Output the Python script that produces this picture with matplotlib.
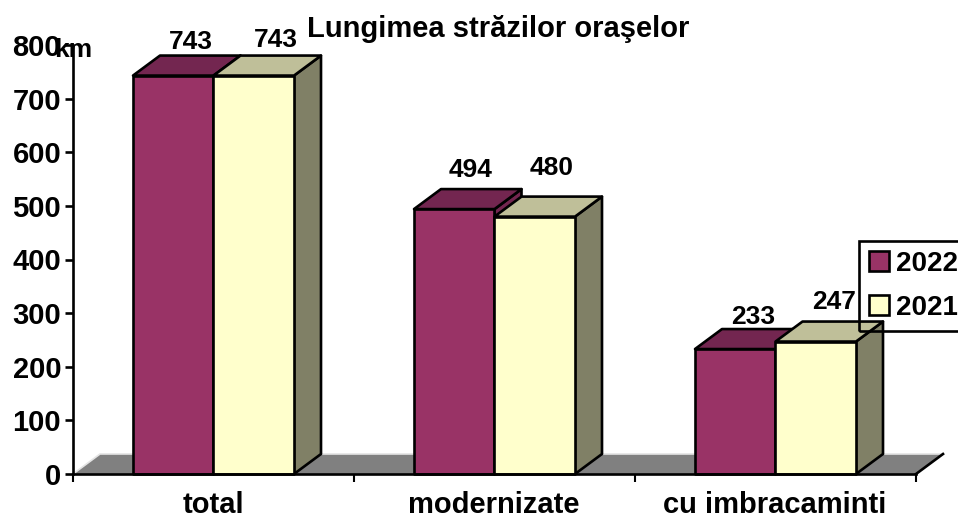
import matplotlib
matplotlib.use('Agg')
import matplotlib.pyplot as plt
from matplotlib.patches import Polygon, Patch

plt.rcParams['font.family'] = ['Liberation Sans', 'DejaVu Sans']
plt.rcParams['font.weight'] = 'bold'

categories = ['total', 'modernizate', 'cu imbracaminti']
v2022 = [743, 494, 233]
v2021 = [743, 480, 247]
ticks = [0, 100, 200, 300, 400, 500, 600, 700, 800]

W, H = 958, 519
fig = plt.figure(figsize=(W / 100, H / 100), dpi=100)
# axa: x 73..916 px, y 474..45 px
ax = fig.add_axes([73 / W, 1 - 474 / H, (916 - 73) / W, (474 - 45) / H])
ax.set_xlim(0, 3)
ax.set_ylim(0, 800)
ax.patch.set_visible(False)

dx = 27 / 281   # adancime 3D in unitati de date
dy = 20 / 429 * 800
bw = 80.5 / 281

# podeaua gri
ax.add_patch(Polygon([(0, 0), (dx, dy), (3 + dx, dy), (3, 0)], fc='#808080', ec='none', clip_on=False, zorder=1))
ax.plot([0, dx, 3 + dx], [0, dy, dy], color='#e4e4e4', lw=1.2, clip_on=False, zorder=1)
ax.plot([3, 3 + dx], [0, dy], color='black', lw=1.9, clip_on=False, zorder=1)


def bar3d(x, h, front, top, side):
    kw = dict(ec='black', lw=1.9, joinstyle='round', clip_on=False, zorder=3)
    ax.add_patch(Polygon([(x + bw, 0), (x + bw + dx, dy), (x + bw + dx, h + dy), (x + bw, h)], fc=side, **kw))
    ax.add_patch(Polygon([(x, h), (x + dx, h + dy), (x + bw + dx, h + dy), (x + bw, h)], fc=top, **kw))
    ax.add_patch(Polygon([(x, 0), (x, h), (x + bw, h), (x + bw, 0)], fc=front, **kw))


# offset-urile etichetelor in pixeli fata de coltul din fata
off_2022 = [(18, 34), (16, 39), (18, 32)]
off_2021 = [(22, 36), (17, 49), (18, 40)]

for i in range(3):
    bar3d(i + 0.5 - bw, v2022[i], '#993366', '#732650', '#732650')
    bar3d(i + 0.5, v2021[i], '#FFFFCC', '#BFBF99', '#808066')
    for x, v, o in [(i + 0.5 - bw / 2, v2022[i], off_2022[i]), (i + 0.5 + bw / 2, v2021[i], off_2021[i])]:
        ax.annotate(str(v), (x, v), xytext=(o[0] * 0.72, o[1] * 0.72), textcoords='offset points',
                    ha='center', va='center', fontsize=19, fontweight='bold', zorder=5)

for s in ['top', 'right']:
    ax.spines[s].set_visible(False)
for s in ['left', 'bottom']:
    ax.spines[s].set_linewidth(1.9)
    ax.spines[s].set_zorder(4)

ax.set_yticks(ticks)
ax.set_yticklabels(ticks, fontsize=21, fontweight='bold')
ax.set_xticks([0, 1, 2, 3])
ax.set_xticklabels([])
ax.tick_params(axis='y', length=5.5, width=1.9, pad=3)
ax.tick_params(axis='x', length=6, width=1.5)
for i, c in enumerate(categories):
    fig.text((213 + 281 * i) / W, 1 - 505 / H, c, ha='center', va='center', fontsize=21, fontweight='bold')

fig.text(498 / W, 1 - 29 / H, 'Lungimea străzilor oraşelor', ha='center', va='center', fontsize=21, fontweight='bold')
fig.text(73 / W, 1 - 50 / H, 'km', ha='center', va='center', fontsize=19, fontweight='bold', zorder=6)

handles = [Patch(fc='#993366', ec='black', lw=1.9), Patch(fc='#FFFFCC', ec='black', lw=1.9)]
leg = ax.legend(handles, ['2022', '2021'], loc='upper left', bbox_to_anchor=(859 / W, 1 - 241 / H),
                bbox_transform=fig.transFigure, prop={'size': 20, 'weight': 'bold'}, fancybox=False,
                edgecolor='black', facecolor='none', framealpha=1, handlelength=0.72, handleheight=0.72,
                handletextpad=0.25, labelspacing=0.66, borderpad=0.35, borderaxespad=0)
leg.get_frame().set_linewidth(1.9)
leg.set_zorder(6)

fig.savefig('out.png', dpi=100)
